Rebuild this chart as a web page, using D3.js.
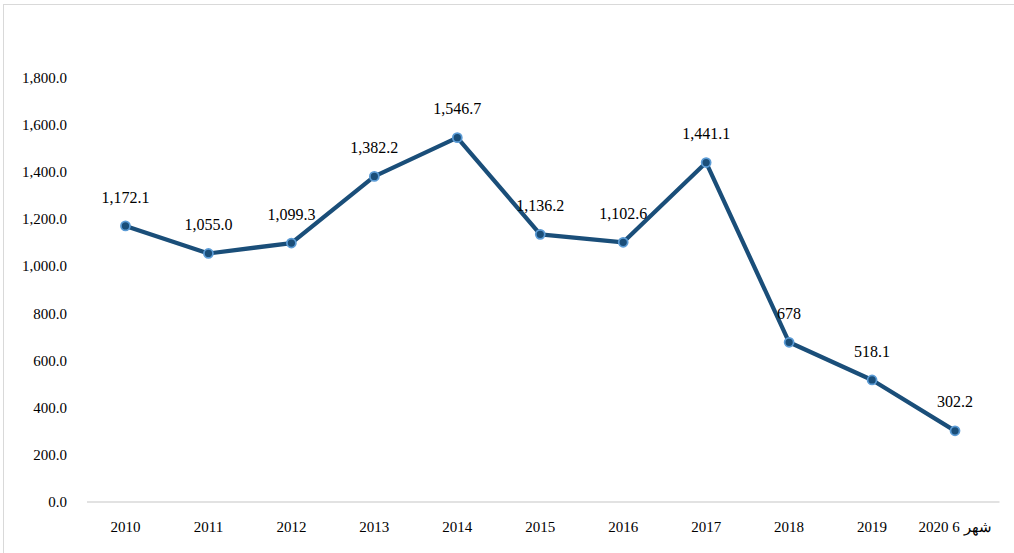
<!DOCTYPE html>
<html>
<head>
<meta charset="utf-8">
<script src="https://cdn.jsdelivr.net/npm/d3@7"></script>
<style>
  html, body { margin: 0; padding: 0; background: #fff; }
  svg { display: block; }
  text { font-family: "Liberation Serif", "Times New Roman", serif; fill: #000; }
</style>
</head>
<body>
<svg id="chart" width="1014" height="553"></svg>
<script>
// Yearly values, with the last point covering the first six months of 2020
const categories = ["2010", "2011", "2012", "2013", "2014", "2015", "2016", "2017", "2018", "2019", "2020 6 شهر"];
const values = [1172.1, 1055.0, 1099.3, 1382.2, 1546.7, 1136.2, 1102.6, 1441.1, 678, 518.1, 302.2];
const valueLabels = ["1,172.1", "1,055.0", "1,099.3", "1,382.2", "1,546.7", "1,136.2", "1,102.6", "1,441.1", "678", "518.1", "302.2"];
const yTicks = [0, 200, 400, 600, 800, 1000, 1200, 1400, 1600, 1800];

const FONT = "'Liberation Serif', 'Times New Roman', serif";
const svg = d3.select("#chart");

// outer chart frame
svg.append("rect")
  .attr("x", 3.5).attr("y", 4.5)
  .attr("width", 1030).attr("height", 580)
  .attr("fill", "none").attr("stroke", "#d9d9d9").attr("stroke-width", 1);

const plot = { left: 84, right: 996.5, top: 78, bottom: 502 };

const x = d3.scaleBand().domain(categories).range([plot.left, plot.right]).padding(0);
const y = d3.scaleLinear().domain([0, 1800]).range([plot.bottom, plot.top]);

// y axis (labels only)
const yAxis = d3.axisLeft(y).tickValues(yTicks).tickSize(0).tickPadding(0)
  .tickFormat(d => d3.format(",.1f")(d));
const gy = svg.append("g").attr("transform", "translate(67,0)").call(yAxis)
  .attr("font-family", FONT).attr("font-size", 15);
gy.select(".domain").remove();
gy.selectAll("text").attr("dy", "0.3em").attr("fill", "#000");

// category axis baseline and labels
const xAxis = d3.axisBottom(x).tickSize(0).tickPadding(0);
const gx = svg.append("g").attr("transform", `translate(0,${plot.bottom})`).call(xAxis)
  .attr("font-family", FONT).attr("font-size", 15);
gx.select(".domain").attr("d", `M${plot.left + 3},0H${plot.right + 3}`)
  .attr("stroke", "#d9d9d9").attr("stroke-width", 1.5);
gx.selectAll("text").attr("y", 25).attr("dy", "0.35em").attr("direction", "ltr").attr("fill", "#000");

// series line
const cx = i => x(categories[i]) + x.bandwidth() / 2;
const line = d3.line().x((d, i) => cx(i)).y(d => y(d));
svg.append("path").datum(values)
  .attr("d", line)
  .attr("fill", "none")
  .attr("stroke", "#1a4e79")
  .attr("stroke-width", 4.25)
  .attr("stroke-linejoin", "round");

// markers
svg.selectAll("circle.pt").data(values).join("circle")
  .attr("class", "pt")
  .attr("cx", (d, i) => cx(i))
  .attr("cy", d => y(d))
  .attr("r", 4.5)
  .attr("fill", "#1a4e79")
  .attr("stroke", "#5b9bd5")
  .attr("stroke-width", 1.75);

// data labels
svg.selectAll("text.lbl").data(values).join("text")
  .attr("class", "lbl")
  .attr("x", (d, i) => cx(i))
  .attr("y", d => y(d) - 29)
  .attr("text-anchor", "middle")
  .attr("dy", "0.35em")
  .attr("font-family", FONT)
  .attr("font-size", 16)
  .text((d, i) => valueLabels[i]);
</script>
</body>
</html>
